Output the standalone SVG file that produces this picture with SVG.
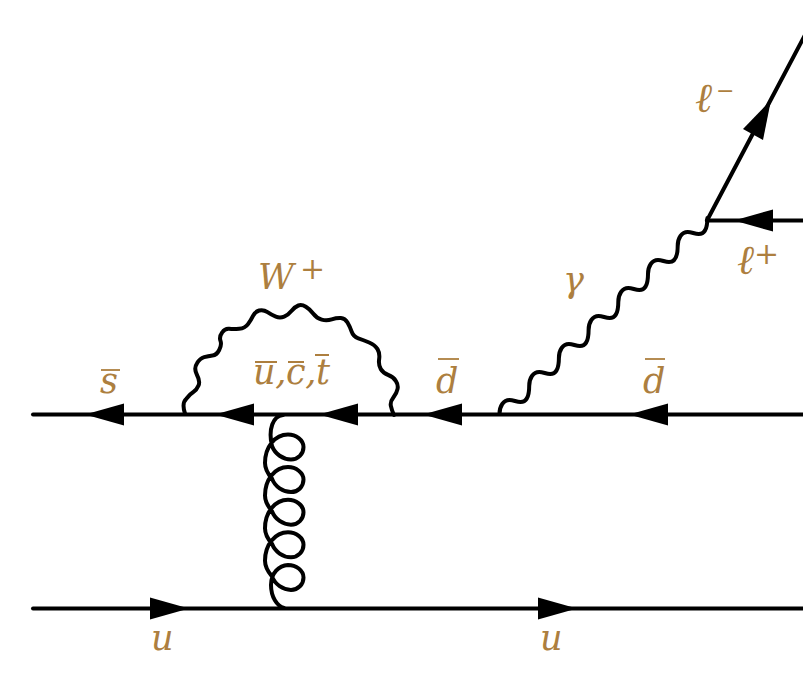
<svg xmlns="http://www.w3.org/2000/svg" width="803" height="684" viewBox="0 0 803 684">
<style>
.l{fill:none;stroke:#000;stroke-width:4;stroke-linecap:round;stroke-linejoin:round}
.a{fill:#000;stroke:none}
.t{font-family:"DejaVu Serif",serif;font-style:italic;font-size:35px;fill:#ad7f3f}
.e{font-size:41px}
.s{font-family:"DejaVu Serif",serif;font-style:normal;font-size:30px;fill:#ad7f3f}
.m{font-size:22px}
.b{fill:none;stroke:#ad7f3f;stroke-width:1.8}
</style>
<defs>
<path id="al" d="M0,0L39,-11V11Z"/>
</defs>
<rect width="803" height="684" fill="#fff"/>
<g id="connectors">
<path class="l" d="M33,414.500H803"/>
<path class="l" d="M33,608.500H803"/>
<path class="l" d="M707,220.500H803"/>
<path class="l" d="M707,220.500L805,35"/>
<path class="l" d="M185,413.500Q181.500,403 186.350,398.650Q190,394 193.350,392Q196.700,390 198.350,385.850Q200.500,381.700 197,375Q193.500,368.300 197,363.300Q200,358.300 204.150,357.150Q208.300,356 212.500,355.500Q216.700,355 219.200,350Q221.900,345 220.500,340.850Q219,336.700 222.150,332.500Q225,328.300 229.150,328.800Q233.300,329.300 239.150,328.800Q245,328.300 248,324.150Q251,320 253,315.850Q255,311.700 259.150,310.500Q263.300,309.300 267.500,312.150Q271.700,315 275.850,316.650Q280,318.300 284.150,316.650Q288.300,315 291.650,310.850Q295,306.700 298.350,305.500Q301.700,304.300 305.850,306.800Q310,309.300 313.350,313.800Q316.700,318.300 321.700,319.650Q326.700,321 331.700,319.350Q336.700,317.700 340.850,318Q345,318.300 347.500,322.500Q350,326.700 351.650,331.700Q353.300,336.700 358.300,338.350Q363.300,340 369.150,342.500Q375,345 377.500,349.150Q380,353.300 379.150,359.150Q378.300,365 380.800,369.150Q383.300,373.300 388.300,375Q393.300,376.700 395.800,380.850Q398.500,385 397.500,389.150Q396.700,393.300 393.350,397.500Q390,401.700 390.850,405.850Q391.700,410 394,415"/>
<path class="l" d="M499.500,414c0,-8 4,-14 10,-14c4,0 7,2 11,2c6,0 8.700,-6 8.700,-16c0,-8 4,-14 10,-14c4,0 7,2 11,2c6,0 8.700,-6 8.700,-16c0,-8 4,-14 10,-14c4,0 7,2 11,2c6,0 8.700,-6 8.700,-16c0,-8 4,-14 10,-14c4,0 7,2 11,2c6,0 8.700,-6 8.700,-16c0,-8 4,-14 10,-14c4,0 7,2 11,2c6,0 8.700,-6 8.700,-16c0,-8 4,-14 10,-14c4,0 7,2 11,2c6,0 8.700,-6 8.700,-16c0,-8 4,-14 10,-14c4,0 7,2 11,2c6,0 8.700,-6 8.700,-16"/>
<path class="l" d="M283,415C273,416 268,429 272,446c3,8 11,13.500 19,13.500c7,0 12.500,-5.500 12.500,-12.500c0,-7 -7.500,-12.500 -15.500,-12.500c-13,0 -23,12.500 -23,28.500c0,6 3,11 7,15.600c3,8 11,13.500 19,13.500c7,0 12.500,-5.500 12.500,-12.500c0,-7 -7.500,-12.500 -15.500,-12.500c-13,0 -23,12.500 -23,28.500c0,6 3,11 7,15.600c3,8 11,13.500 19,13.500c7,0 12.500,-5.500 12.500,-12.500c0,-7 -7.500,-12.500 -15.500,-12.500c-13,0 -23,12.500 -23,28.500c0,6 3,11 7,15.600c3,8 11,13.500 19,13.500c7,0 12.500,-5.500 12.500,-12.500c0,-7 -7.500,-12.500 -15.500,-12.500c-13,0 -23,12.500 -23,28.500c0,6 3,11 7,15.600c3,8 11,13.500 19,13.500c7,0 12.500,-5.500 12.500,-12.500c0,-7 -7.500,-12.500 -15.500,-12.500C279,565.400 271,573 271,585C271,597 277,606 284,608"/>
<g class="a">
<use href="#al" x="85" y="414.500"/>
<use href="#al" x="215" y="414.500"/>
<use href="#al" x="319" y="414.500"/>
<use href="#al" x="423" y="414.500"/>
<use href="#al" x="629" y="414.500"/>
<use href="#al" transform="translate(189,608.500) rotate(180)"/>
<use href="#al" transform="translate(577,608.500) rotate(180)"/>
<use href="#al" x="734" y="220.500"/>
<path d="M771,100L743,129L763,140Z"/>
</g>
</g>
<g id="labels">
<text class="t" x="100" y="393">s</text><path class="b" d="M101,370H120"/>
<text class="t" x="258" y="289">W<tspan class="s" dy="-10" dx="6">+</tspan></text>
<text class="t" x="253" y="384" textLength="77" lengthAdjust="spacing">u,c,t</text><path class="b" d="M255,362H277M288,362H304M315,355H329"/>
<text class="t" x="436" y="393">d</text><path class="b" d="M438,359H459"/>
<text class="t" x="643" y="393">d</text><path class="b" d="M645,359H665"/>
<text class="t" x="563" y="292">γ</text>
<text class="t" x="695" y="112"><tspan class="e">ℓ</tspan><tspan class="s m" dy="-14" dx="4">−</tspan></text>
<text class="t" x="737" y="274"><tspan class="e">ℓ</tspan><tspan class="s" dy="-10" dx="0">+</tspan></text>
<text class="t" x="151" y="650">u</text>
<text class="t" x="540" y="650">u</text>
</g>
</svg>
